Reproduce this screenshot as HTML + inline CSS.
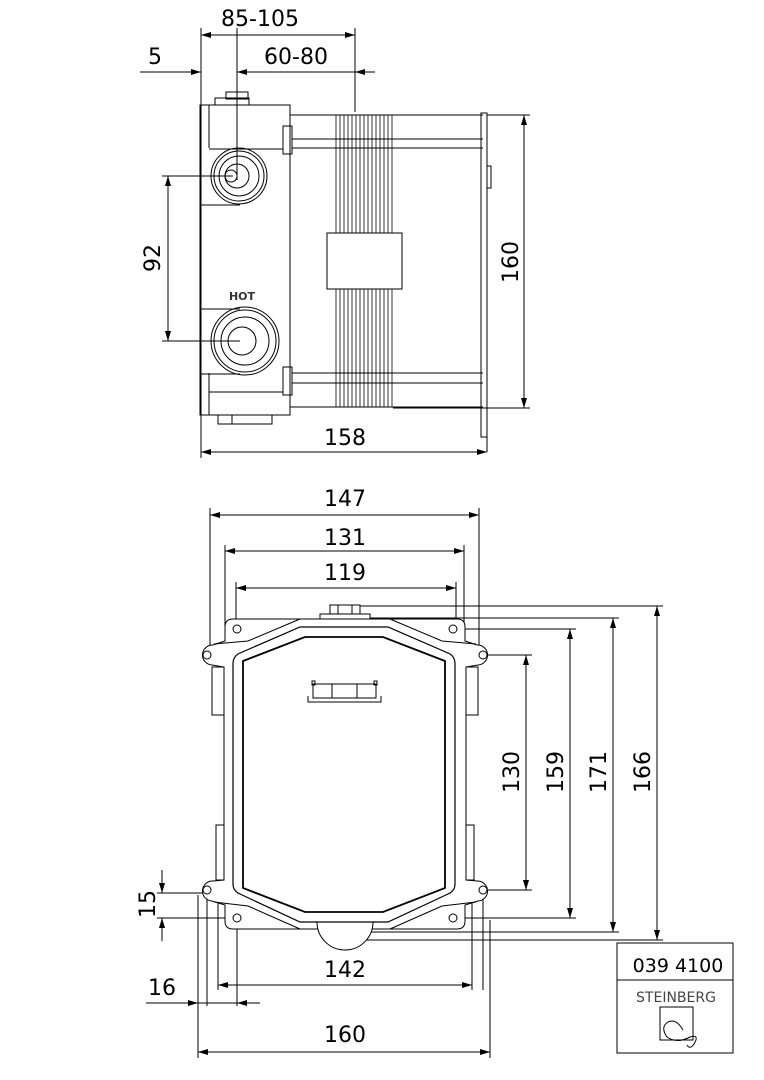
<!DOCTYPE html>
<html><head><meta charset="utf-8"><style>
html,body{margin:0;padding:0;background:#fff}
svg{display:block}
text{font-family:"DejaVu Sans","Liberation Sans",sans-serif;fill:#000}
</style></head><body>
<svg width="764" height="1080" viewBox="0 0 764 1080" xmlns="http://www.w3.org/2000/svg">
<defs>
<marker id="a" viewBox="0 0 10 6" refX="10" refY="3" markerWidth="10" markerHeight="6" orient="auto-start-reverse" markerUnits="userSpaceOnUse"><path d="M0,0L10,3L0,6z" fill="#000"/></marker>
</defs>
<g stroke="#000" stroke-width="1" fill="none">
<!-- TOP VIEW extension lines -->
<line x1="201" y1="28" x2="201" y2="458"/>
<line x1="237" y1="64" x2="237" y2="180"/>
<line x1="355" y1="28" x2="355" y2="112"/>
<line x1="487" y1="452" x2="487" y2="437"/>
<line x1="201" y1="35" x2="355" y2="35" marker-start="url(#a)" marker-end="url(#a)"/>
<line x1="140" y1="72" x2="201" y2="72" marker-end="url(#a)"/>
<line x1="237" y1="72" x2="355" y2="72" marker-start="url(#a)"/>
<line x1="375" y1="72" x2="355" y2="72" marker-end="url(#a)"/>
<line x1="162" y1="176" x2="233" y2="176"/>
<line x1="162" y1="341" x2="240" y2="341"/>
<line x1="168" y1="176" x2="168" y2="341" marker-start="url(#a)" marker-end="url(#a)"/>
<line x1="487" y1="115" x2="530" y2="115"/>
<line x1="393" y1="408" x2="530" y2="408"/>
<line x1="524" y1="115" x2="524" y2="408" marker-start="url(#a)" marker-end="url(#a)"/>
<line x1="201" y1="452" x2="487" y2="452" marker-start="url(#a)" marker-end="url(#a)"/>
<!-- body -->
<rect x="200" y="105" width="90" height="310"/>
<line x1="209" y1="105" x2="209" y2="148"/>
<line x1="209" y1="373" x2="209" y2="415"/>
<line x1="209" y1="149" x2="283" y2="149"/>
<line x1="200" y1="205" x2="240" y2="205"/>
<line x1="200" y1="309" x2="240" y2="309"/>
<line x1="200" y1="374" x2="240" y2="374"/>
<line x1="209" y1="392" x2="283" y2="392"/>
<rect x="283" y="126" width="9" height="28"/>
<rect x="283" y="367" width="9" height="28"/>
<rect x="215" y="98" width="34" height="7"/>
<rect x="226" y="92" width="22" height="7"/>
<rect x="218" y="415" width="14" height="9"/>
<rect x="232" y="415" width="40" height="9"/>
<circle cx="239" cy="176" r="28"/>
<circle cx="239" cy="176" r="25"/>
<circle cx="239" cy="176" r="20"/>
<circle cx="237" cy="176" r="12"/>
<circle cx="231" cy="176" r="6"/>
<circle cx="245" cy="341" r="34"/>
<circle cx="245" cy="341" r="31"/>
<circle cx="245" cy="341" r="24"/>
<circle cx="242" cy="341" r="14"/>
<line x1="237" y1="28" x2="237" y2="105"/>
<!-- pipes -->
<line x1="290" y1="115" x2="483" y2="115"/>
<line x1="292" y1="139" x2="483" y2="139"/>
<line x1="292" y1="148" x2="483" y2="148"/>
<line x1="292" y1="373" x2="483" y2="373"/>
<line x1="292" y1="383" x2="483" y2="383"/>
<line x1="290" y1="407" x2="483" y2="407"/>
<g stroke-width="0.8">
<line x1="336" y1="115" x2="336" y2="407"/><line x1="340" y1="115" x2="340" y2="407"/>
<line x1="344" y1="115" x2="344" y2="407"/><line x1="348" y1="115" x2="348" y2="407"/>
<line x1="352" y1="115" x2="352" y2="407"/><line x1="356" y1="115" x2="356" y2="407"/>
<line x1="360" y1="115" x2="360" y2="407"/><line x1="364" y1="115" x2="364" y2="407"/>
<line x1="368" y1="115" x2="368" y2="407"/><line x1="372" y1="115" x2="372" y2="407"/>
<line x1="376" y1="115" x2="376" y2="407"/><line x1="380" y1="115" x2="380" y2="407"/>
<line x1="384" y1="115" x2="384" y2="407"/><line x1="388" y1="115" x2="388" y2="407"/>
<line x1="392" y1="115" x2="392" y2="407"/>
</g>
<rect x="327" y="233" width="75" height="56" fill="#fff"/>
<rect x="481" y="113" width="6" height="324"/>
<rect x="487" y="166" width="4" height="22"/>
<!-- BOTTOM VIEW dimensions -->
<line x1="210" y1="508" x2="210" y2="650"/>
<line x1="479" y1="508" x2="479" y2="650"/>
<line x1="225" y1="545" x2="225" y2="665"/>
<line x1="464" y1="545" x2="464" y2="665"/>
<line x1="236" y1="582" x2="236" y2="625"/>
<line x1="456" y1="582" x2="456" y2="625"/>
<line x1="210" y1="515" x2="479" y2="515" marker-start="url(#a)" marker-end="url(#a)"/>
<line x1="225" y1="551" x2="464" y2="551" marker-start="url(#a)" marker-end="url(#a)"/>
<line x1="236" y1="588" x2="456" y2="588" marker-start="url(#a)" marker-end="url(#a)"/>
<line x1="360" y1="606" x2="663" y2="606"/>
<line x1="360" y1="618" x2="619" y2="618"/>
<line x1="453" y1="629" x2="576" y2="629"/>
<line x1="483" y1="655" x2="532" y2="655"/>
<line x1="483" y1="890" x2="532" y2="890"/>
<line x1="453" y1="918" x2="576" y2="918"/>
<line x1="370" y1="932" x2="619" y2="932"/>
<line x1="360" y1="940" x2="663" y2="940"/>
<line x1="526" y1="655" x2="526" y2="890" marker-start="url(#a)" marker-end="url(#a)"/>
<line x1="570" y1="629" x2="570" y2="918" marker-start="url(#a)" marker-end="url(#a)"/>
<line x1="613" y1="618" x2="613" y2="932" marker-start="url(#a)" marker-end="url(#a)"/>
<line x1="657" y1="606" x2="657" y2="940" marker-start="url(#a)" marker-end="url(#a)"/>
<line x1="157" y1="893" x2="207" y2="893"/>
<line x1="157" y1="918" x2="237" y2="918"/>
<line x1="162" y1="870" x2="162" y2="893" marker-end="url(#a)"/>
<line x1="162" y1="941" x2="162" y2="918" marker-end="url(#a)"/>
<line x1="198" y1="895" x2="198" y2="1058"/>
<line x1="207" y1="893" x2="207" y2="1006"/>
<line x1="218" y1="890" x2="218" y2="990"/>
<line x1="237" y1="918" x2="237" y2="1006"/>
<line x1="472" y1="890" x2="472" y2="990"/>
<line x1="483" y1="893" x2="483" y2="990"/>
<line x1="490" y1="920" x2="490" y2="1058"/>
<line x1="218" y1="985" x2="472" y2="985" marker-start="url(#a)" marker-end="url(#a)"/>
<line x1="146" y1="1003" x2="198" y2="1003" marker-end="url(#a)"/>
<line x1="198" y1="1003" x2="237" y2="1003"/>
<line x1="260" y1="1003" x2="237" y2="1003" marker-end="url(#a)"/>
<line x1="198" y1="1052" x2="490" y2="1052" marker-start="url(#a)" marker-end="url(#a)"/>
<!-- flange -->
<path fill="#fff" d="M233,619 L457,619 Q465,619 465,627 L465,641 L477,645 A10,10 0 0 1 478,665 L466,667 L466,880 L477,881 A10,10 0 0 1 478,901 L465,905 L465,921 Q465,929 457,929 L233,929 Q225,929 225,921 L225,905 L212,901 A10,10 0 0 1 213,881 L224,880 L224,667 L212,665 A10,10 0 0 1 213,645 L225,641 L225,627 Q225,619 233,619 Z"/>
<path d="M214,644 L248,641 L300,619 M476,644 L442,641 L390,619 M214,902 L248,906 L300,929 M476,902 L442,906 L390,929"/>
<rect x="212" y="667" width="12" height="48"/>
<rect x="466" y="667" width="12" height="48"/>
<rect x="216" y="825" width="8" height="55"/>
<rect x="466" y="825" width="8" height="55"/>
<circle cx="237" cy="629" r="4"/><circle cx="453" cy="629" r="4"/>
<circle cx="207" cy="655" r="4"/><circle cx="483" cy="655" r="4"/>
<circle cx="207" cy="890" r="4"/><circle cx="483" cy="890" r="4"/>
<circle cx="237" cy="918" r="4"/><circle cx="453" cy="918" r="4"/>
<rect x="320" y="614" width="50" height="5" fill="#fff"/>
<rect x="330" y="605" width="30" height="9" fill="#fff"/>
<line x1="338" y1="605" x2="338" y2="614"/><line x1="352" y1="605" x2="352" y2="614"/>
<path d="M317,922 A28,28 0 0 0 373,922" fill="#fff"/>
<path stroke-width="1.2" fill="#fff" d="M300,627 L388,627 L448,653 Q455,656 455,664 L455,884 Q455,891 448,894 L388,922 L300,922 L240,894 Q233,891 233,884 L233,664 Q233,656 240,653 Z"/>
<path stroke-width="1.8" d="M305,637 L383,637 L445,661 L445,888 L383,912 L305,912 L243,888 L243,661 Z"/>
<path d="M308,696 L308,702 L381,702 L381,696"/>
<rect x="312" y="681" width="3" height="4"/><rect x="374" y="681" width="3" height="4"/>
<rect x="313" y="684" width="63" height="14"/>
<line x1="332" y1="684" x2="332" y2="698"/><line x1="357" y1="684" x2="357" y2="698"/>
<!-- title block -->
<rect x="617" y="943" width="116" height="110"/>
<line x1="617" y1="980" x2="733" y2="980"/>
<rect x="660" y="1007" width="33" height="33"/>
<path d="M683,1030 Q676,1018 668,1022 Q660,1027 667,1037 Q677,1044 690,1037 Q700,1034 694,1044 Q690,1050 687,1045"/>
</g>
<g font-size="22" text-anchor="middle">
<text x="260" y="26">85-105</text>
<text x="155" y="64">5</text>
<text x="296" y="64">60-80</text>
<text x="345" y="445">158</text>
<text transform="translate(160,258) rotate(-90)">92</text>
<text transform="translate(518,262) rotate(-90)">160</text>
<text x="345" y="506">147</text>
<text x="345" y="545">131</text>
<text x="345" y="580">119</text>
<text transform="translate(519,772) rotate(-90)">130</text>
<text transform="translate(563,772) rotate(-90)">159</text>
<text transform="translate(606,772) rotate(-90)">171</text>
<text transform="translate(650,772) rotate(-90)">166</text>
<text transform="translate(155,904) rotate(-90)">15</text>
<text x="345" y="977">142</text>
<text x="162" y="995">16</text>
<text x="345" y="1042">160</text>
</g>
<text x="678" y="972" font-size="19" text-anchor="middle">039 4100</text>
<text x="676" y="1002" font-size="14" text-anchor="middle" style="fill:#444">STEINBERG</text>
<text x="242" y="300" font-size="11" font-weight="bold" text-anchor="middle" style="fill:#333">HOT</text>
</svg>
</body></html>
